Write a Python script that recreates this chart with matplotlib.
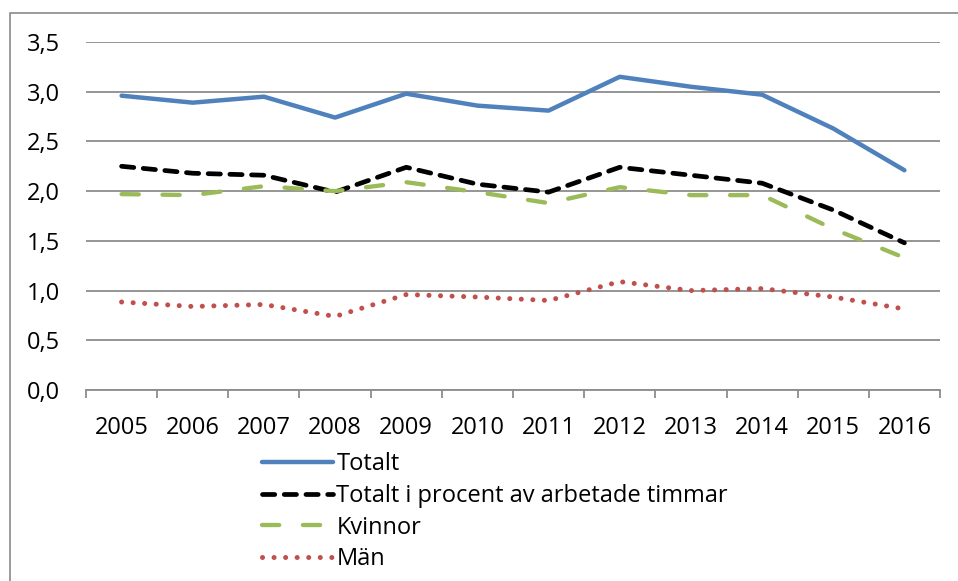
import matplotlib
matplotlib.use("Agg")
import matplotlib.pyplot as plt
from matplotlib.patches import Rectangle
from matplotlib.ticker import FixedLocator, FuncFormatter

years = ["2005", "2006", "2007", "2008", "2009", "2010",
         "2011", "2012", "2013", "2014", "2015", "2016"]
totalt = [2.96, 2.89, 2.95, 2.74, 2.98, 2.86, 2.81, 3.15, 3.05, 2.97, 2.63, 2.21]
totalt_timmar = [2.25, 2.18, 2.16, 1.99, 2.24, 2.07, 1.99, 2.24, 2.16, 2.08, 1.81, 1.48]
kvinnor = [1.97, 1.96, 2.05, 2.00, 2.09, 1.99, 1.88, 2.04, 1.96, 1.96, 1.62, 1.33]
man = [0.885, 0.84, 0.86, 0.74, 0.96, 0.935, 0.90, 1.09, 1.00, 1.02, 0.935, 0.815]
labels = ["Totalt", "Totalt i procent av arbetade timmar", "Kvinnor", "Män"]
yticks = [0.0, 0.5, 1.0, 1.5, 2.0, 2.5, 3.0, 3.5]

W, H = 958, 581
fig = plt.figure(figsize=(W / 100, H / 100), dpi=100)
plt.rcParams['font.family'] = ['Open Sans', 'DejaVu Sans']
FS = 17

# outer chart frame
fig.patches.append(Rectangle((10 / W, -0.1), 1.2, 1 - 13 / H + 0.1,
                             transform=fig.transFigure, fill=False,
                             edgecolor="#8a8a8a", linewidth=1.2))

ax = fig.add_axes([86 / W, 1 - 390 / H, (940 - 86) / W, (390 - 42) / H])
x = list(range(len(years)))

l1, = ax.plot(x, totalt, color="#4F81BD", lw=3.2, solid_capstyle="round",
              solid_joinstyle="round", label=labels[0])
l2, = ax.plot(x, totalt_timmar, color="black", lw=3.4, dashes=(2.6, 2.0),
              dash_capstyle="round", label=labels[1])
l3, = ax.plot(x, kvinnor, color="#9BBB59", lw=3.1, dashes=(4.0, 5.5),
              dash_capstyle="round", label=labels[2])
l4, = ax.plot(x, man, color="#C0504D", lw=3.6, dashes=(0.01, 2.3),
              dash_capstyle="round", label=labels[3])

ax.set_xlim(-0.5, len(years) - 0.5)
ax.set_ylim(0, 3.5)
ax.set_yticks(yticks)
ax.yaxis.set_major_formatter(FuncFormatter(lambda v, p: f"{v:.1f}".replace(".", ",")))
ax.tick_params(axis="y", length=0, pad=19, labelsize=FS, labelcolor="black")
ax.grid(axis="y", color="#8c8c8c", lw=1.3)
ax.set_axisbelow(True)

ax.xaxis.set_major_locator(FixedLocator([i - 0.5 for i in range(len(years) + 1)]))
ax.xaxis.set_minor_locator(FixedLocator(x))
ax.set_xticklabels([], minor=False)
ax.set_xticklabels(years, minor=True)
ax.tick_params(axis="x", which="major", length=6, width=1.3, color="#8c8c8c")
ax.tick_params(axis="x", which="minor", length=0, pad=19, labelsize=FS)

for s in ["left", "right", "top"]:
    ax.spines[s].set_visible(False)
ax.spines["bottom"].set_color("#8c8c8c")
ax.spines["bottom"].set_linewidth(1.3)

fig.legend(handles=[l1, l2, l3, l4], loc="upper left",
           bbox_to_anchor=(262 / W, 1 - 452 / H), frameon=False,
           fontsize=FS, handlelength=3.0, handletextpad=0.15,
           labelspacing=0.33, borderaxespad=0, borderpad=0)

fig.savefig("out.png", dpi=100)
